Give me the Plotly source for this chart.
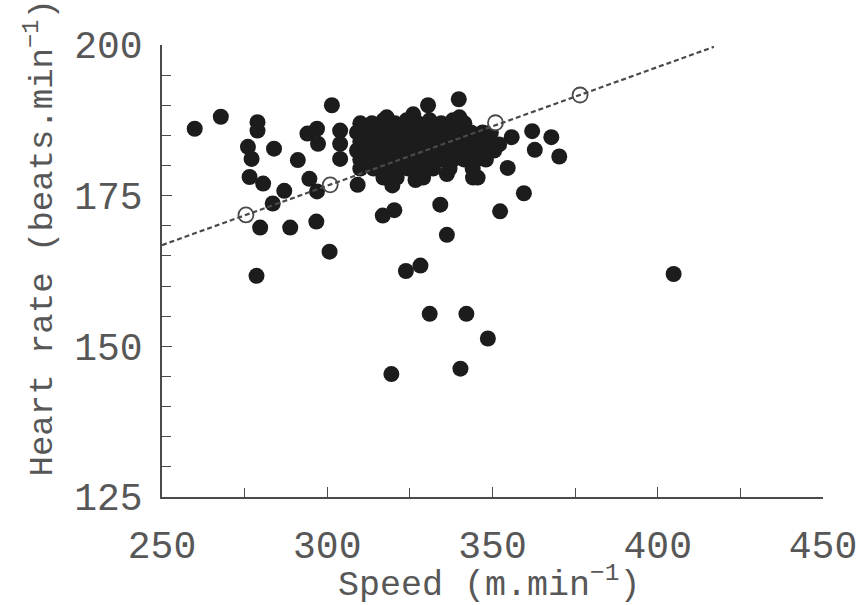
import plotly.graph_objects as go

# ---- data ----
speed = [
    259.9, 267.8, 278.9, 278.9, 301.4, 276.0, 277.1, 283.9, 291.1, 276.5,
    280.6, 287.0, 283.5, 294.6, 296.9, 294.0, 296.9, 297.2, 303.9, 303.9,
    303.9, 309.2, 279.7, 288.8, 296.7, 300.7, 278.6, 316.8, 320.3, 334.2,
    336.2, 323.8, 328.2, 331.0, 342.1, 352.3, 359.5, 354.6, 362.0, 367.8,
    362.8, 370.2, 355.8, 330.5, 339.8, 336.2, 344.1, 326.7, 319.7, 404.8,
    319.4, 340.3, 348.6,
    # dense cluster
    310, 313.5, 317, 320.5, 324, 327.5, 331, 334.5, 338, 341.5,
    309, 312, 315.5, 319, 322.5, 326, 329.5, 333, 336.5, 340, 343.5, 347, 349.5,
    310, 313.5, 317, 320.5, 324, 327.5, 331, 334.5, 338, 341.5, 345, 348.5, 352,
    309, 312, 315.5, 319, 322.5, 326, 329.5, 333, 336.5, 340, 343.5, 347, 350.5,
    310, 313.5, 317, 320.5, 324, 327.5, 331, 334.5, 338, 341.5, 345, 348,
    310, 314, 317.5, 321, 324.5, 328, 332, 337, 344,
    317, 321, 329, 345.5, 318, 326, 340,
]
heart_rate = [
    186.1, 188.1, 187.2, 185.8, 190.0, 183.1, 181.1, 182.8, 180.9, 178.1,
    177.0, 175.8, 173.7, 177.8, 175.7, 185.3, 186.1, 183.6, 185.8, 183.6,
    181.1, 176.8, 169.7, 169.7, 170.7, 165.7, 161.7, 171.7, 172.6, 173.5,
    168.5, 162.5, 163.4, 155.4, 155.4, 172.4, 175.4, 179.6, 185.7, 184.7,
    182.6, 181.5, 184.7, 190.0, 191.0, 178.6, 178.0, 177.6, 176.7, 162.0,
    145.4, 146.3, 151.3,
    187, 187, 187.5, 187, 187.5, 187, 187.5, 187, 187.5, 187,
    185.5, 185.5, 185.5, 185.5, 185.5, 185.5, 185.5, 185.5, 185.5, 185.5, 185.5, 185.5, 185.5,
    184, 184, 184, 184, 184, 184, 184, 184, 184, 184, 184, 184, 183.5,
    182.5, 182.5, 182.5, 182.5, 182.5, 182.5, 182.5, 182.5, 182.5, 182.5, 182.5, 182.5, 182.5,
    181, 181, 181, 181, 181, 181, 181, 181, 181, 181, 181, 181,
    179.5, 179.5, 179.5, 179.5, 179.5, 179.5, 179.5, 179.5, 179.5,
    178, 178, 178, 178, 188, 188.5, 188,
]

fit_speed = [250, 417]
fit_hr = [166.8, 199.7]
open_speed = [275.4, 300.9, 350.9, 376.5]
open_hr = [171.8, 176.8, 187.1, 191.7]

x_ticks = [250, 300, 350, 400, 450]
y_ticks = [125, 150, 175, 200]

ink = "#1c1c1c"
grey = "#4a4a4a"
text_col = "#575757"
font_family = "Liberation Mono, Courier New, monospace"

fig = go.Figure()
fig.add_trace(go.Scatter(
    x=speed, y=heart_rate, mode="markers",
    marker=dict(size=16, color=ink, line=dict(width=0)),
    showlegend=False, hoverinfo="skip"))
fig.add_trace(go.Scatter(
    x=open_speed, y=open_hr, mode="markers",
    marker=dict(size=15, color="white", line=dict(width=1.8, color=grey)),
    showlegend=False, hoverinfo="skip"))
fig.add_trace(go.Scatter(
    x=fit_speed, y=fit_hr, mode="lines",
    line=dict(color=grey, width=2.2, dash="5px,3px"),
    showlegend=False, hoverinfo="skip"))

axis_common = dict(
    showgrid=False, zeroline=False, showline=True, linecolor=grey, linewidth=1.6,
    ticks="inside", ticklen=10, tickwidth=1.4, tickcolor=grey, automargin=False,
    tickfont=dict(family=font_family, size=38, color=text_col),
)
fig.update_xaxes(range=[250, 450], tickvals=x_ticks, ticklabelstandoff=14,
                 minor=dict(tickvals=[275, 325, 375, 425], ticks="inside", ticklen=9,
                            tickwidth=1.4, tickcolor=grey),
                 **axis_common)
fig.update_yaxes(range=[125, 200], tickvals=y_ticks, ticklabelstandoff=10,
                 minor=dict(dtick=5, tick0=125, ticks="inside", ticklen=9,
                            tickwidth=1.4, tickcolor=grey),
                 **axis_common)

fig.update_layout(
    width=858, height=605,
    margin=dict(l=162, r=35, t=45, b=108),
    paper_bgcolor="white", plot_bgcolor="white",
    font=dict(family=font_family, color=text_col),
    annotations=[
        dict(text="Speed (m.min<sup>−1</sup>)", xref="paper", yref="paper",
             x=0.495, y=0, yshift=-86, xanchor="center", yanchor="middle",
             showarrow=False, font=dict(size=35, family=font_family, color=text_col)),
        dict(text="Heart rate (beats.min<sup>−1</sup>)", xref="paper", yref="paper",
             x=0, xshift=-122, y=0.572, xanchor="center", yanchor="middle", textangle=-90,
             showarrow=False, font=dict(size=34, family=font_family, color=text_col)),
    ],
)

fig.write_html("out.html")
